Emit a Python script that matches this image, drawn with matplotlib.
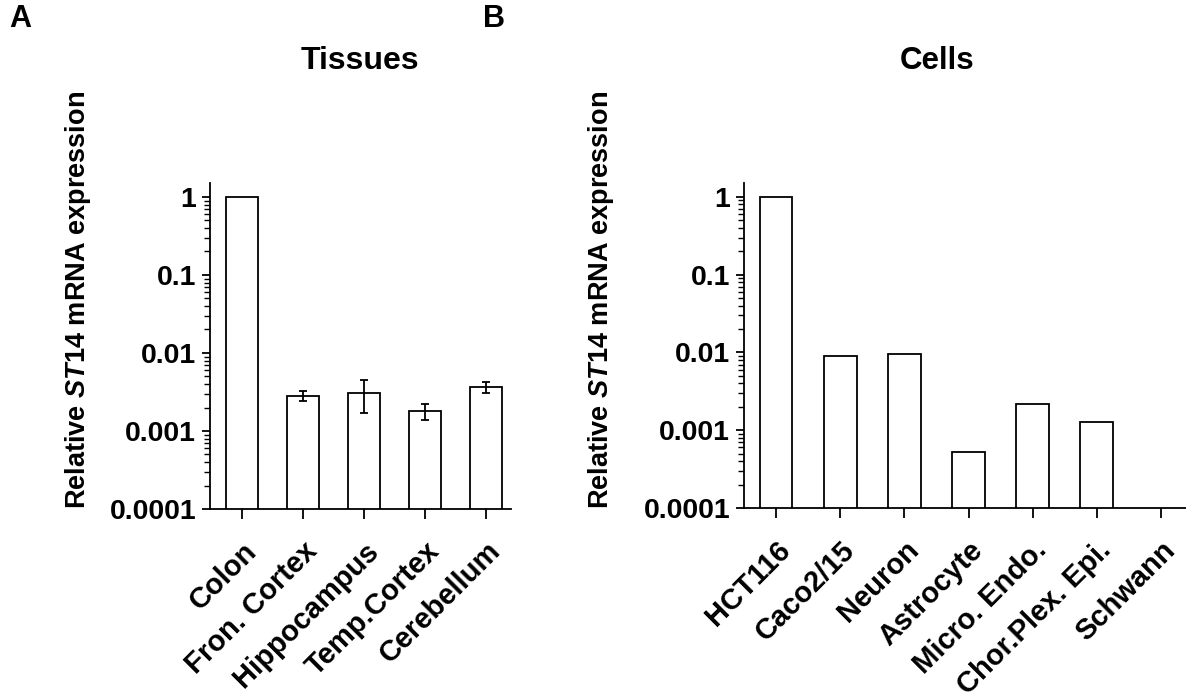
import numpy as np
import matplotlib
matplotlib.use("Agg")
import matplotlib.pyplot as plt
from matplotlib.ticker import FixedLocator, FixedFormatter, LogLocator, NullFormatter

plt.rcParams['font.family'] = ['Liberation Sans', 'DejaVu Sans']
plt.rcParams['font.weight'] = 'bold'
plt.rcParams['mathtext.fontset'] = 'custom'
plt.rcParams['mathtext.it'] = 'Liberation Sans:italic:bold'
plt.rcParams['mathtext.rm'] = 'Liberation Sans:bold'

# Data
tissues = ["Colon", "Fron. Cortex", "Hippocampus", "Temp.Cortex", "Cerebellum"]
tissue_vals = [1.0, 0.0028, 0.0031, 0.0018, 0.0037]
tissue_err_low = [0.0, 0.0004, 0.0014, 0.00042, 0.0006]
tissue_err_high = [0.0, 0.0005, 0.0014, 0.00042, 0.0006]

cells = ["HCT116", "Caco2/15", "Neuron", "Astrocyte", "Micro. Endo.", "Chor.Plex. Epi.", "Schwann"]
cell_vals = [1.0, 0.0091, 0.0095, 0.00053, 0.0022, 0.00128, np.nan]

ytick_vals = [1e-4, 1e-3, 1e-2, 1e-1, 1]
ytick_labels = ["0.0001", "0.001", "0.01", "0.1", "1"]

ylabel = r"Relative $\mathit{ST14}$ mRNA expression"

W, H = 1186, 698
fig = plt.figure(figsize=(W / 100, H / 100), dpi=100)

def px_axes(x0, x1, ytop, ybot):
    return fig.add_axes([x0 / W, 1 - ybot / H, (x1 - x0) / W, (ybot - ytop) / H])

axA = px_axes(210, 511, 183, 509)
axB = px_axes(744, 1186, 183, 508)

def style(ax, labels, xlim):
    ax.set_yscale('log')
    ax.set_ylim(1e-4, 1.51)
    ax.set_xlim(*xlim)
    ax.yaxis.set_major_locator(FixedLocator(ytick_vals))
    ax.yaxis.set_major_formatter(FixedFormatter(ytick_labels))
    ax.yaxis.set_minor_locator(LogLocator(base=10, subs=np.arange(2, 10)))
    ax.yaxis.set_minor_formatter(NullFormatter())
    ax.set_xticks(range(len(labels)))
    ax.set_xticklabels(labels, rotation=45, ha='right', rotation_mode='anchor',
                       fontsize=21, fontweight='bold')
    for t in ax.get_yticklabels():
        t.set_fontsize(20.5)
        t.set_fontweight('bold')
    ax.spines['top'].set_visible(False)
    ax.spines['right'].set_visible(False)
    for s in ('left', 'bottom'):
        ax.spines[s].set_linewidth(1.3)
    ax.tick_params(axis='x', which='major', length=7, width=1.3, pad=13)
    ax.tick_params(axis='y', which='major', length=6, width=1.3, pad=4)
    ax.tick_params(axis='y', which='minor', length=4, width=1.0)
    ax.set_ylabel(ylabel, fontsize=19.5, fontweight='bold')

xA = np.arange(len(tissues))
axA.bar(xA, tissue_vals, width=0.54, bottom=0, color='white', edgecolor='black',
        linewidth=1.3, zorder=2)
axA.errorbar(xA[1:], tissue_vals[1:],
             yerr=[tissue_err_low[1:], tissue_err_high[1:]],
             fmt='none', ecolor='black', elinewidth=1.3, capsize=3, capthick=1.3, zorder=3)
style(axA, tissues, (-0.525, 4.41))
axA.yaxis.set_label_coords(-0.389, 0.64)

xB = np.arange(len(cells))
axB.bar(xB, cell_vals, width=0.51, bottom=0, color='white', edgecolor='black',
        linewidth=1.3, zorder=2)
style(axB, cells, (-0.5, 6.39))
axB.yaxis.set_label_coords(-0.29, 0.64)

fig.text(360 / W, 1 - 61 / H, "Tissues", fontsize=23, fontweight='bold', ha='center', va='center')
fig.text(937 / W, 1 - 61 / H, "Cells", fontsize=22.5, fontweight='bold', ha='center', va='center')
fig.text(9 / W, 1 - 19 / H, "A", fontsize=22, fontweight='bold', ha='left', va='center')
fig.text(483 / W, 1 - 19 / H, "B", fontsize=22, fontweight='bold', ha='left', va='center')

fig.savefig("out.png", dpi=100)
